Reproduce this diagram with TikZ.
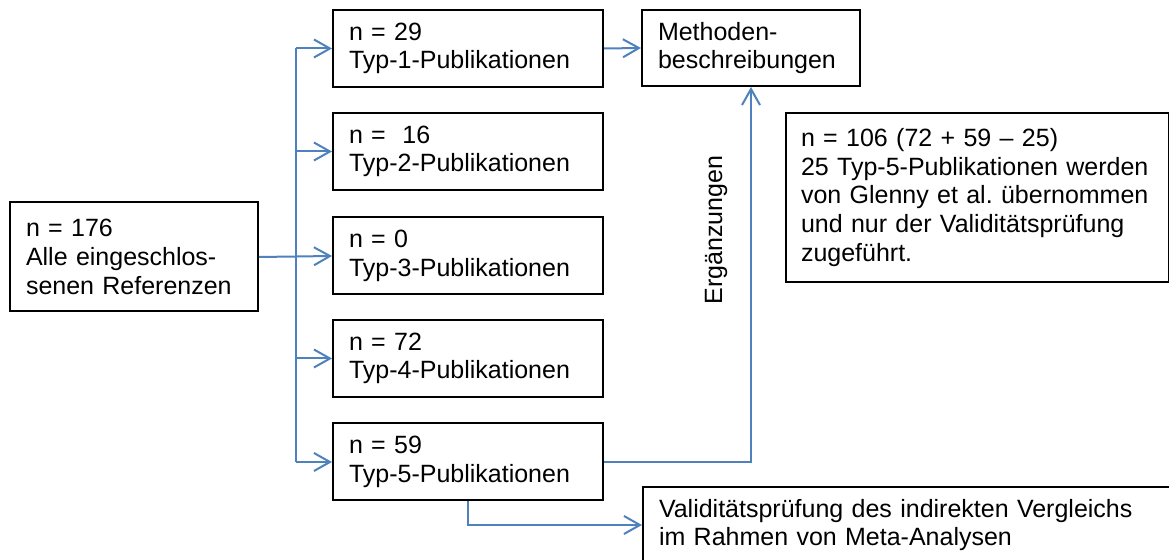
\documentclass[tikz,border=0pt]{standalone}
\usepackage{fontspec}
\setmainfont{Liberation Sans}
\usetikzlibrary{arrows.meta}
\definecolor{flowblue}{RGB}{79,129,189}
\begin{document}
\begin{tikzpicture}[x=0.5pt,y=-0.5pt,
  txt/.style={font=\fontsize{12.5}{14.3}\selectfont},
  box/.style={txt, draw=black, line width=1pt, inner xsep=8pt, inner ysep=2pt,
    align=left},
  typebox/.style={box, text width=119pt, minimum height=38.5pt},
  flow/.style={draw=flowblue, line width=1pt},
  arr/.style={flow, -{Straight Barb[length=8pt,width=9pt,line width=1pt]}}]
\useasboundingbox (0,0) rectangle (1169,560);

% input and the five publication types
\node[box, text width=108pt, minimum height=54.5pt] (all) at (134,257)
  {n = 176\\Alle eingeschlos-\\senen Referenzen};
\node[typebox] (t1) at (468,48.5)  {n = 29\\Typ-1-Publikationen};
\node[typebox] (t2) at (468,151.5) {n =\ \ 16\\Typ-2-Publikationen};
\node[typebox] (t3) at (468,256) {n = 0\\Typ-3-Publikationen};
\node[typebox] (t4) at (468,358.5) {n = 72\\Typ-4-Publikationen};
\node[typebox] (t5) at (468,462) {n = 59\\Typ-5-Publikationen};

% outcomes
\node[box, text width=93pt, minimum height=38pt] (meth) at (751,48)
  {Methoden-\\beschreibungen};
\node[box, text width=176.5pt, minimum height=84.5pt, inner xsep=7.5pt] (note) at (977.5,197.5)
  {n = 106 (72 + 59 -- 25)\\25 Typ-5-Publikationen werden\\von Glenny et al.\ übernommen\\und nur der Validitätsprüfung\\zugeführt.};
\node[box, text width=252.5pt, minimum height=38pt] (valid) at (911.5,525)
  {Validitätsprüfung des indirekten Vergleichs\\im Rahmen von Meta-Analysen};

% distribution bus
\coordinate (bustop) at (296,48.5);
\coordinate (busbot) at (296,462);
\draw[flow] (bustop) -- (busbot);
\draw[arr] (all.east) -- (t3.west);
\draw[arr] (bustop) -- (t1.west);
\draw[arr] (t2.west -| bustop) -- (t2.west);
\draw[arr] (t4.west -| bustop) -- (t4.west);
\draw[arr] (busbot) -- (t5.west);

% links to the outcomes
\draw[arr] (t1.east) -- (meth.west);
\draw[arr] (t5.east) -| (meth.south);
\node[txt, rotate=90] (erg) at (716,230) {Ergänzungen};
\draw[arr] (t5.south) |- (valid.west);
\end{tikzpicture}
\end{document}
